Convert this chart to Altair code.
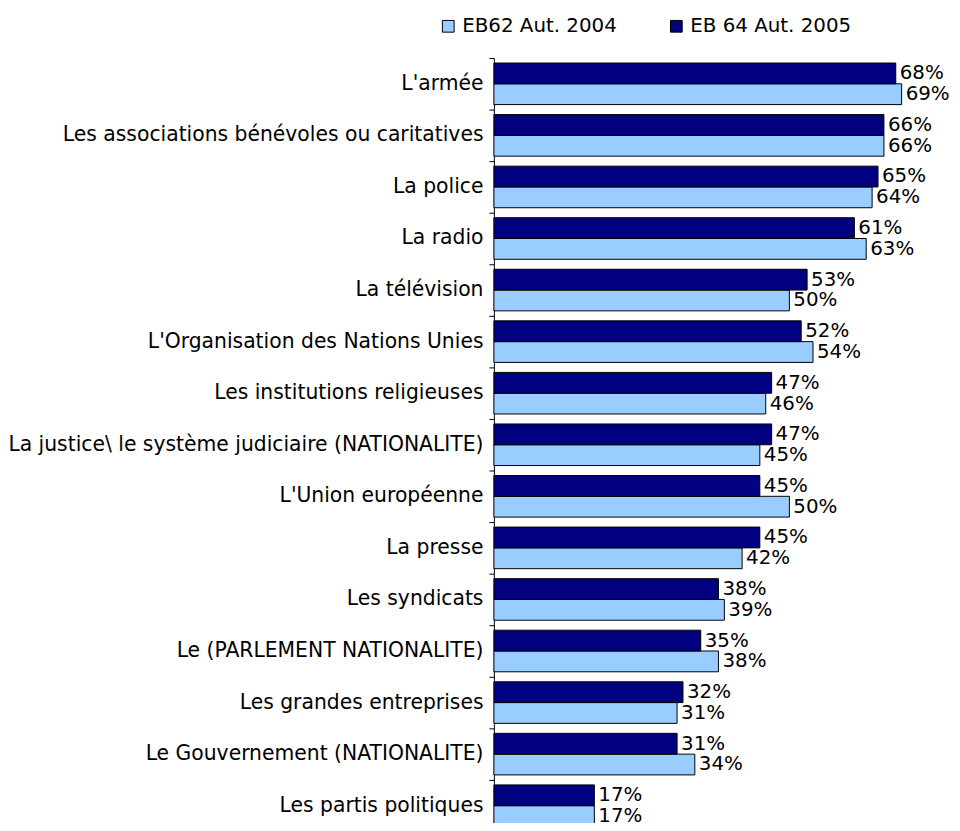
import altair as alt
import pandas as pd

categories = [
    "L'armée",
    "Les associations bénévoles ou caritatives",
    "La police",
    "La radio",
    "La télévision",
    "L'Organisation des Nations Unies",
    "Les institutions religieuses",
    "La justice\\ le système judiciaire (NATIONALITE)",
    "L'Union européenne",
    "La presse",
    "Les syndicats",
    "Le (PARLEMENT NATIONALITE)",
    "Les grandes entreprises",
    "Le Gouvernement (NATIONALITE)",
    "Les partis politiques",
]
series_names = ["EB62 Aut. 2004", "EB 64 Aut. 2005"]
values_2004 = [69, 66, 64, 63, 50, 54, 46, 45, 50, 42, 39, 38, 31, 34, 17]
values_2005 = [68, 66, 65, 61, 53, 52, 47, 47, 45, 45, 38, 35, 32, 31, 17]
colors = ["#99CCFF", "#000080"]

rows = []
for c, a, b in zip(categories, values_2004, values_2005):
    rows.append({"cat": c, "serie": series_names[0], "v": a})
    rows.append({"cat": c, "serie": series_names[1], "v": b})
df = pd.DataFrame(rows)

FONT = "DejaVu Sans"
FS = 20
FS_AXIS = 20.5

y_enc = alt.Y("cat:N", sort=categories, title=None,
              scale=alt.Scale(paddingInner=0, paddingOuter=0, range=[0, 780]),
              axis=alt.Axis(bandPosition=0, tickSize=5, tickColor="#000000",
                            domainColor="#000000", labelFontSize=FS_AXIS,
                            labelFont=FONT, labelColor="#000000",
                            labelPadding=6, labelLimit=700, ticks=True,
                            grid=False))
yoff = alt.YOffset("serie:N", sort=[series_names[1], series_names[0]],
                   scale=alt.Scale(paddingInner=0, paddingOuter=0.24))
x_enc = alt.X("v:Q", axis=None, scale=alt.Scale(domain=[0, 75], nice=False))

base = alt.Chart(df)

bars = base.mark_bar(stroke="#000000", strokeWidth=1).encode(
    x=x_enc,
    y=y_enc,
    yOffset=yoff,
    color=alt.Color("serie:N", scale=alt.Scale(domain=series_names, range=colors),
                    title=None,
                    legend=alt.Legend(orient="none", direction="horizontal",
                                      legendX=-56, legendY=-42,
                                      symbolType="square", symbolSize=140,
                                      symbolStrokeColor="#000000",
                                      symbolStrokeWidth=1,
                                      labelFontSize=FS, labelFont=FONT,
                                      labelColor="#000000",
                                      columnPadding=50, symbolOffset=0,
                                      labelOffset=4, labelLimit=400)),
)

labels = base.mark_text(align="left", baseline="middle", dx=4, fontSize=FS,
                        font=FONT, color="#000000").transform_calculate(
    lab="datum.v + '%'"
).encode(
    x=x_enc,
    y=alt.Y("cat:N", sort=categories, title=None),
    yOffset=yoff,
    text="lab:N",
)

chart = alt.layer(bars, labels).properties(
    width=447, height=768,
    autosize=alt.AutoSizeParams(type="none"),
    padding={"left": 490, "top": 47, "right": 15, "bottom": 0},
).configure(font=FONT).configure_view(
    strokeWidth=0, stroke="transparent"
).configure_axis(grid=False)

chart.save("out.html", embed_options={"renderer": "svg", "actions": False})
